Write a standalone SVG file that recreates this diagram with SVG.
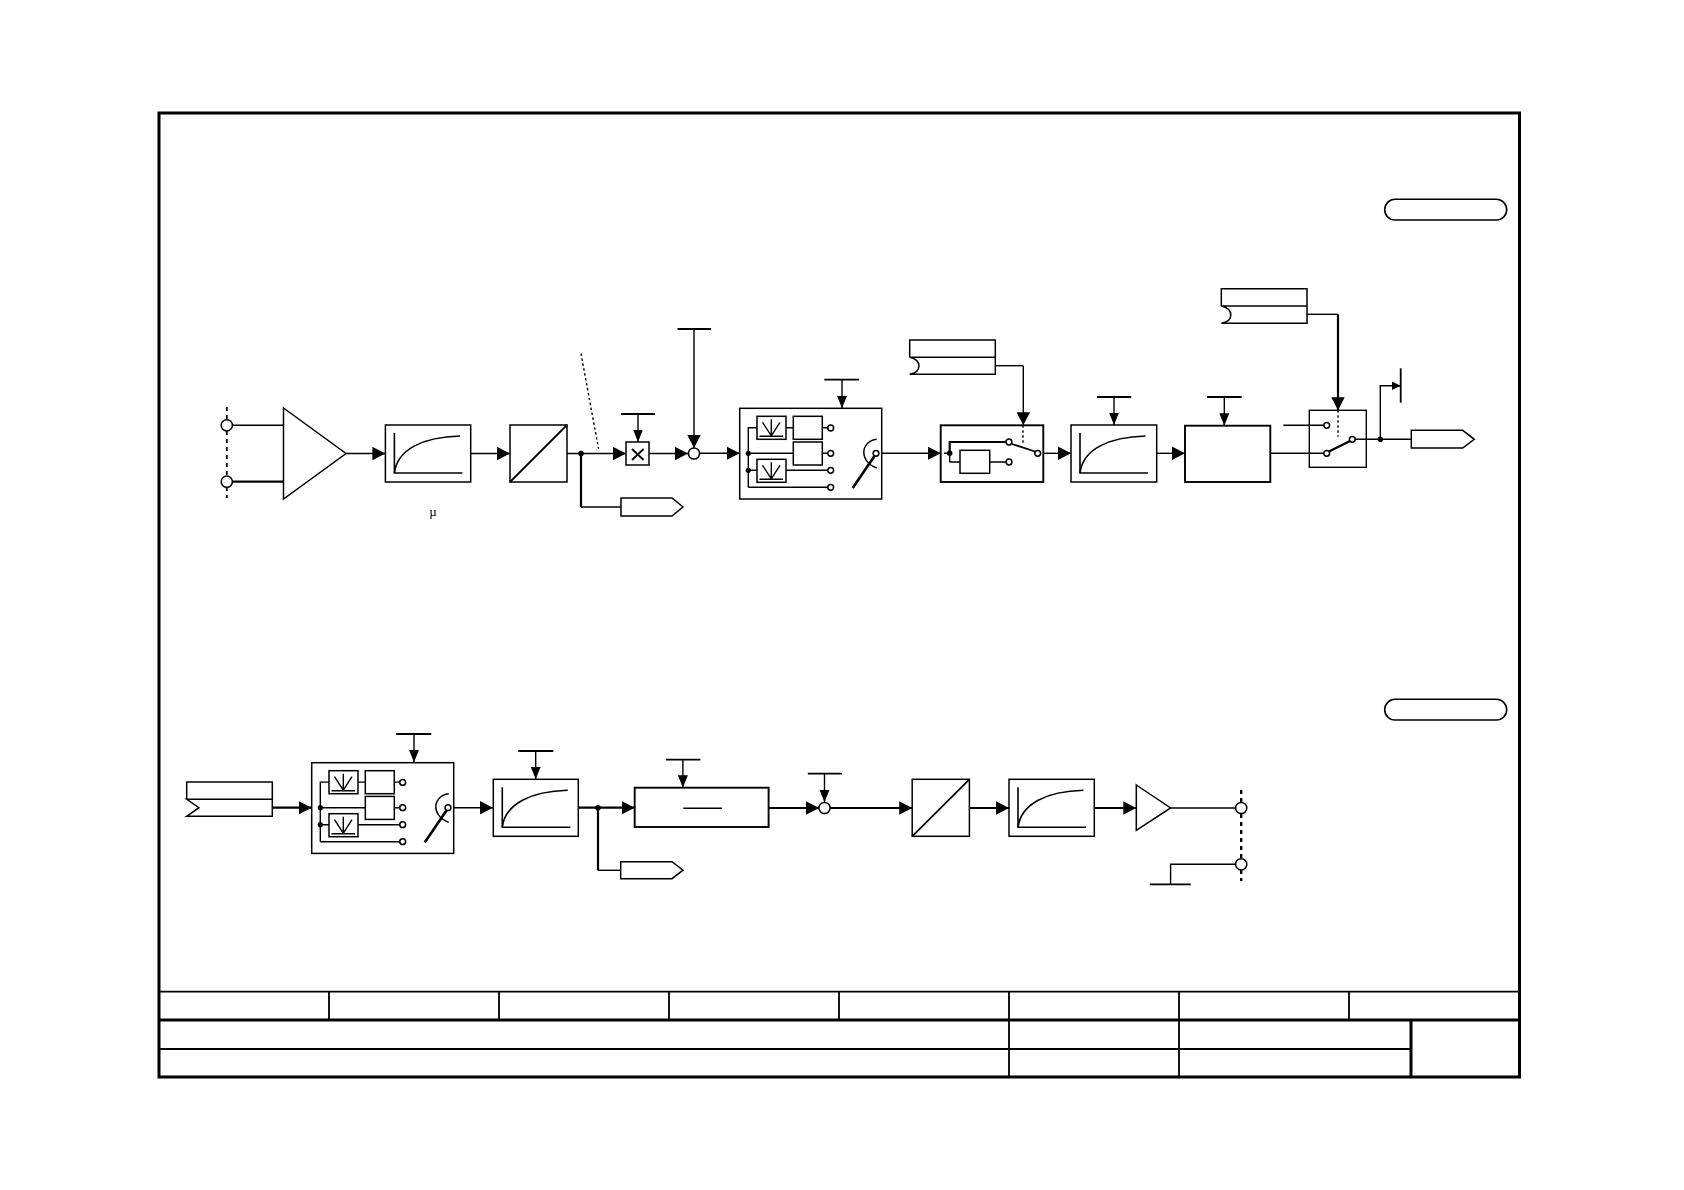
<svg xmlns="http://www.w3.org/2000/svg" xmlns:xlink="http://www.w3.org/1999/xlink" width="1684" height="1190" viewBox="0 0 1684 1190">
<style>
svg{background:#fff}
.l,.b,.k,.h,.c,.d{stroke:#000;stroke-width:1.4;fill:none}
.b{fill:#fff;stroke-width:1.5}
.k{stroke-width:1.9;fill:#fff}
.h{stroke-width:2.2}
.c{fill:#fff;stroke-width:1.5}
.d{stroke-width:1.8;stroke-dasharray:4 4}
.j{fill:#000;stroke:none}
.t{stroke:#000;stroke-width:3;fill:none}
.m{stroke:#000;stroke-width:1.8;fill:none}
</style>
<defs>
<marker id="a" markerUnits="userSpaceOnUse" markerWidth="14" markerHeight="14" viewBox="0 0 14 14" refX="13" refY="7" orient="auto"><path d="M0 0.3 13 7 0 13.7z" fill="#000"/></marker>
<marker id="s" markerUnits="userSpaceOnUse" markerWidth="13" markerHeight="11" viewBox="0 0 13 11" refX="12.5" refY="5.5" orient="auto"><path d="M0 0.5 12.5 5.5 0 10.5z" fill="#000"/></marker>
<marker id="u" markerUnits="userSpaceOnUse" markerWidth="10" markerHeight="10" viewBox="0 0 10 10" refX="9" refY="5" orient="auto"><path d="M0 0.5 9 5 0 9.5z" fill="#000"/></marker>
<g id="curve"><path class="l" d="M9 8V48H77" style="stroke-width:1.6"/><path class="l" d="M9 48C12 24 38 12 74.5 11" style="stroke-width:1.6"/></g>
<g id="icon"><rect class="b" width="29" height="23"/><path class="l" d="M2.5 20H26M14.3 3V19.5M5.5 6 14.3 19.5 23 6"/></g>
<g id="sel">
<rect class="b" x="739.7" y="408.3" width="142" height="90.7"/>
<path class="l" d="M748.3 487.3V427.7H757M785.7 427.7H793.3M748.3 453.3H793.3M822.3 427.7H828M822.3 453.3H828M748.3 470.3H757M785.7 470.3H828M748.3 487.3H828"/>
<use xlink:href="#icon" href="#icon" x="757" y="416.3"/>
<use xlink:href="#icon" href="#icon" x="757" y="459.3"/>
<rect class="b" x="793.3" y="416.3" width="29" height="23"/>
<rect class="b" x="793.3" y="442" width="29" height="23"/>
<circle class="j" cx="748.3" cy="453.3" r="2.6"/><circle class="j" cx="748.3" cy="470.3" r="2.6"/>
<circle class="c" cx="830.7" cy="428" r="2.9"/><circle class="c" cx="830.7" cy="453.3" r="2.9"/><circle class="c" cx="830.7" cy="470.3" r="2.9"/><circle class="c" cx="830.7" cy="487.3" r="2.9"/>
<path class="l" d="M876.7 439.3C861 441 858 461 876.7 468"/>
<path class="h" style="stroke-width:2.6" d="M852.7 488 874.5 456"/>
<circle class="c" cx="876" cy="453.3" r="2.9"/>
</g>
</defs>

<g id="frame">
<path class="t" d="M159 113H1519.5V1077H159Z"/>
<path class="m" d="M159 991.7H1519.5M329 991.7V1020M499 991.7V1020M669 991.7V1020M839 991.7V1020M1009 991.7V1077M1179 991.7V1077M1349 991.7V1020"/>
<path class="t" d="M159 1020H1519.5M1411 1020V1077"/>
<path class="m" d="M159 1049H1411"/>
<rect class="l" style="stroke-width:1.6" x="1384.7" y="199.3" width="122" height="20.7" rx="10.3"/>
<rect class="l" style="stroke-width:1.6" x="1384.7" y="699.3" width="122" height="20.7" rx="10.3"/>
</g>

<g id="connectors">
<path class="l" d="M232 425.3H283"/>
<path class="h" d="M232 481.7H283"/>
<path class="l" marker-end="url(#a)" d="M346 453.5H385.4"/>
<path class="l" marker-end="url(#a)" d="M470.7 453.5H510"/>
<path class="l" marker-end="url(#a)" d="M567 453.5H626"/>
<path class="d" style="stroke-width:1.4;stroke-dasharray:2.5 2.5" d="M581 353.5 598.6 449"/>
<path class="h" d="M581 453.5V507"/><path class="l" d="M581 507H621"/>
<path class="l" marker-end="url(#s)" d="M638 414V442"/>
<path class="m" d="M621 414H655"/>
<path class="l" marker-end="url(#a)" d="M649 453.5H688"/>
<path class="l" marker-end="url(#a)" d="M694 329V448"/>
<path class="m" d="M677.5 329H711"/>
<path class="l" marker-end="url(#a)" d="M700 453.3H739.7"/>
<path class="m" d="M824.3 379.7H859"/>
<path class="l" marker-end="url(#s)" d="M842 379.7V408.3"/>
<path class="l" marker-end="url(#a)" d="M881.7 453.3H940.7"/>
<path class="l" d="M995.3 365.7H1023.3"/>
<path class="l" marker-end="url(#a)" d="M1023.3 365.7V425.3"/>
<path class="l" marker-end="url(#a)" d="M1043.3 453.3H1071"/>
<path class="m" d="M1097 397H1131.3"/>
<path class="l" marker-end="url(#s)" d="M1114 397V425"/>
<path class="l" marker-end="url(#a)" d="M1156.7 453.3H1185"/>
<path class="m" d="M1207 397H1241.7"/>
<path class="l" marker-end="url(#s)" d="M1224.3 397V425.7"/>
<path class="l" d="M1270.3 453.3H1323.7M1283.3 425.3H1323.7"/>
<path class="l" d="M1307 314.3H1338"/>
<path class="h" marker-end="url(#a)" d="M1338 314.3V410.3"/>
<path class="l" d="M1355 439.3H1411.3"/>
<path class="l" marker-end="url(#u)" d="M1380.3 439.3V385.7H1400.5"/>
<path class="m" d="M1400.7 368.3V402.7"/>

<path class="h" marker-end="url(#a)" d="M272.3 807.7H311.7"/>
<path class="m" d="M396.3 734H431.3"/>
<path class="l" marker-end="url(#s)" d="M414 734V762.3"/>
<path class="l" marker-end="url(#a)" d="M453.7 807.7H493"/>
<path class="m" d="M518.3 751H553.3"/>
<path class="l" marker-end="url(#s)" d="M535.7 751V779.3"/>
<path class="h" marker-end="url(#a)" d="M578.3 807.7H634.7"/>
<path class="h" d="M598 807.7V870.3"/><path class="l" d="M598 870.3H620.7"/>
<path class="m" d="M666 759.7H700.4"/>
<path class="l" marker-end="url(#s)" d="M682.9 759.7V787.7"/>
<path class="h" marker-end="url(#a)" d="M768.6 808H819"/>
<path class="m" d="M807.8 773.7H842"/>
<path class="l" marker-end="url(#s)" d="M824.5 773.7V802.3"/>
<path class="h" marker-end="url(#a)" d="M830 808H912.2"/>
<path class="h" marker-end="url(#a)" d="M969.4 808H1009"/>
<path class="h" marker-end="url(#a)" d="M1094.3 808H1136.3"/>
<path class="l" d="M1170.6 808H1235.7"/>
<path class="l" d="M1235.7 864.3H1170.6V884.3"/>
<path class="m" d="M1149.8 884.3H1190.6"/>
</g>

<g id="input-terminals">
<path class="d" d="M226.8 407V498"/>
<circle class="c" cx="226.8" cy="425.3" r="5.6"/><circle class="c" cx="226.8" cy="481.7" r="5.6"/>
</g>
<g id="amp1"><path class="b" d="M283.5 408 346 453.5 283.5 499Z"/></g>
<g id="filter1"><rect class="b" x="385.4" y="425" width="85.3" height="57"/><use xlink:href="#curve" href="#curve" x="385.4" y="425"/></g>
<g id="adc1"><rect class="b" x="510" y="425" width="57" height="57"/><path class="h" d="M510 482 567 425" style="stroke-width:1.8"/></g>
<g id="junction1"><circle class="j" cx="581" cy="453.5" r="2.8"/></g>
<g id="out1"><path class="b" d="M621 498H672L683 507 672 516H621Z"/></g>
<g id="multiplier"><rect class="b" x="626" y="442" width="23" height="23"/><path class="m" d="M632 449 643.6 460M643.6 449 632 460"/></g>
<g id="sum1"><circle class="c" cx="694" cy="453.5" r="5.6"/></g>
<g id="selector1"><use xlink:href="#sel" href="#sel"/></g>
<g id="switch1">
<rect class="k" x="940.7" y="425.3" width="102.6" height="56.7"/>
<path class="d" style="stroke-width:1.4;stroke-dasharray:2.5 2.5" d="M1023 425.3V445"/>
<path class="l" d="M949.7 462V453.3H944M949.7 462H960M990 462H1006"/>
<path class="h" d="M949.7 453.3V442H1006"/>
<circle class="j" cx="949.7" cy="453.3" r="2.7"/>
<rect class="b" x="960" y="450.3" width="29.7" height="23"/>
<path class="h" style="stroke-width:1.8" d="M1012 444 1035 451.5"/>
<circle class="c" cx="1009" cy="442" r="2.9"/><circle class="c" cx="1009" cy="462" r="2.9"/><circle class="c" cx="1037.7" cy="453.3" r="2.9"/>
</g>
<g id="data1"><path class="b" d="M909.7 357.3V340H995.3V374.3H909.7C922 372 922 360 909.7 357.3H995.3"/></g>
<g id="filter2"><rect class="b" x="1071" y="425" width="85.7" height="57"/><use xlink:href="#curve" href="#curve" x="1071" y="425"/></g>
<g id="block6"><rect class="k" x="1185" y="425.7" width="85.3" height="56.3"/></g>
<g id="switch2">
<rect class="l" x="1309.3" y="410.3" width="57" height="57"/>
<path class="d" style="stroke-width:1.4;stroke-dasharray:2.5 2.5" d="M1338 410.3V436.7"/>
<path class="h" d="M1329 451.5 1350 441"/>
<circle class="c" cx="1326.7" cy="425.3" r="2.9"/><circle class="c" cx="1326.7" cy="453.3" r="2.9"/><circle class="c" cx="1352.3" cy="439.3" r="2.9"/>
</g>
<g id="data2"><path class="b" d="M1221.3 306V288.7H1307V323.3H1221.3C1234 321 1234 309 1221.3 306H1307"/></g>
<g id="junction2"><circle class="j" cx="1380.3" cy="439.3" r="2.8"/></g>
<g id="out2"><path class="b" d="M1411.3 430.3H1462.7L1474.3 439.3 1462.7 448H1411.3Z"/></g>
<text id="mu" x="433" y="516" font-family="'Liberation Serif',serif" font-size="13" text-anchor="middle">µ</text>

<g id="data3"><path class="b" d="M186.7 799.3V782H272.3V816.3H186.7L199 807.7 186.7 799.3H272.3"/></g>
<g id="selector2"><use xlink:href="#sel" href="#sel" transform="translate(-428 354.4)"/></g>
<g id="filter3"><rect class="b" x="493.3" y="779.3" width="85" height="57"/><use xlink:href="#curve" href="#curve" x="493.3" y="779.3"/></g>
<g id="junction3"><circle class="j" cx="598" cy="807.7" r="2.8"/></g>
<g id="out3"><path class="b" d="M620.7 861.7H672L683 870.2 672 878.7H620.7Z"/></g>
<g id="block7"><rect class="k" x="634.7" y="787.7" width="133.9" height="39.3"/><path class="l" d="M683.3 808.3H722"/></g>
<g id="sum2"><circle class="c" cx="824.5" cy="808" r="5.6"/></g>
<g id="dac"><rect class="b" x="912.2" y="779.3" width="57.2" height="57"/><path class="h" d="M912.2 836.3 969.4 779.3" style="stroke-width:1.8"/></g>
<g id="filter4"><rect class="b" x="1009" y="779.3" width="85.3" height="57"/><use xlink:href="#curve" href="#curve" x="1009" y="779.3"/></g>
<g id="amp2"><path class="b" d="M1136.3 785 1170.6 808 1136.3 830.3Z"/></g>
<g id="output-terminals">
<path class="d" style="stroke-width:2.4" d="M1241.2 790V881"/>
<circle class="c" cx="1241.2" cy="808" r="5.6"/><circle class="c" cx="1241.2" cy="864.3" r="5.6"/>
</g>
</svg>
